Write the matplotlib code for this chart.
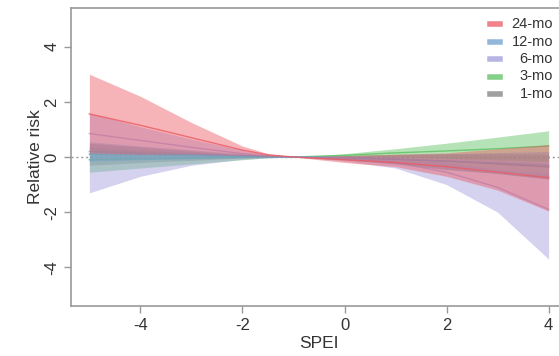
import matplotlib.pyplot as plt

plt.rcParams['font.family'] = ['Liberation Sans', 'DejaVu Sans']

# SPEI grid where the lag curves were read
spei = [-5, -4, -3, -2, -1.5, -1, -0.5, 0, 1, 2, 3, 4]

labels = ["24-mo", "12-mo", "6-mo", "3-mo", "1-mo"]
colors = ["#EC5A62", "#6E9FD0", "#A09CDC", "#5CC060", "#808080"]

rr_24 = [1.56, 1.15, 0.7, 0.25, 0.08, 0.0, -0.05, -0.1, -0.2, -0.35, -0.55, -0.75]
lo_24 = [0.15, 0.1, 0.1, 0.05, 0.02, 0.0, -0.1, -0.2, -0.35, -0.7, -1.2, -1.96]
hi_24 = [3.0, 2.2, 1.25, 0.4, 0.12, 0.0, 0.02, 0.05, 0.1, 0.15, 0.3, 0.45]

rr_12 = [0.2, 0.15, 0.1, 0.05, 0.02, 0.0, -0.01, -0.03, -0.08, -0.15, -0.22, -0.3]
lo_12 = [-0.15, -0.1, -0.06, -0.03, -0.01, 0.0, -0.04, -0.1, -0.25, -0.45, -0.6, -0.8]
hi_12 = [0.55, 0.4, 0.26, 0.12, 0.05, 0.0, 0.02, 0.04, 0.08, 0.12, 0.16, 0.2]

rr_6 = [0.85, 0.6, 0.35, 0.12, 0.04, 0.0, -0.02, -0.05, -0.2, -0.55, -1.1, -1.9]
lo_6 = [-1.3, -0.7, -0.3, -0.08, -0.03, 0.0, -0.07, -0.15, -0.4, -1.0, -2.0, -3.7]
hi_6 = [1.6, 1.1, 0.65, 0.25, 0.08, 0.0, 0.03, 0.05, -0.05, -0.2, -0.45, -0.6]

rr_3 = [-0.1, -0.07, -0.04, -0.01, 0.0, 0.0, 0.03, 0.06, 0.15, 0.22, 0.3, 0.4]
lo_3 = [-0.55, -0.4, -0.25, -0.1, -0.03, 0.0, 0.0, 0.0, 0.0, -0.05, -0.1, -0.15]
hi_3 = [0.35, 0.25, 0.15, 0.07, 0.03, 0.0, 0.05, 0.12, 0.3, 0.5, 0.72, 0.95]

rr_1 = [0.1, 0.08, 0.05, 0.02, 0.01, 0.0, -0.01, -0.03, -0.08, -0.15, -0.25, -0.36]
lo_1 = [-0.3, -0.2, -0.12, -0.04, -0.01, 0.0, -0.05, -0.1, -0.25, -0.45, -0.6, -0.8]
hi_1 = [0.5, 0.36, 0.22, 0.08, 0.03, 0.0, 0.03, 0.06, 0.1, 0.12, 0.12, 0.1]

series = [(rr_24, lo_24, hi_24), (rr_12, lo_12, hi_12), (rr_6, lo_6, hi_6),
          (rr_3, lo_3, hi_3), (rr_1, lo_1, hi_1)]

fig = plt.figure(figsize=(5.59, 3.56), dpi=100)
ax = fig.add_axes([71 / 559, 50 / 356, 496 / 559, 298 / 356])

ax.axhline(0, color="#999999", lw=1, ls=(0, (1.5, 2)), zorder=1)

# shortest lag first, so the 24-mo band sits on top
for (rr, lo, hi), c in reversed(list(zip(series, colors))):
    ax.fill_between(spei, lo, hi, color=c, alpha=0.45, lw=0, zorder=2)
    ax.plot(spei, rr, color=c, lw=1.0, alpha=0.8, zorder=2)

ax.set_xlim(-5.36, 4.36)
ax.set_ylim(-5.4, 5.4)
ax.set_xticks([-4, -2, 0, 2, 4])
ax.set_yticks([-4, -2, 0, 2, 4])
ax.set_yticklabels(["-4", "-2", "0", "2", "4"], rotation=90, va="center")
ax.set_xticklabels(["-4", "-2", "0", "2", "4"])
ax.tick_params(colors="#999999", labelcolor="#333333", labelsize=12, length=5, width=1)
for side in ["left", "bottom", "top", "right"]:
    ax.spines[side].set_color("#999999")
    ax.spines[side].set_linewidth(1.2)

ax.set_xlabel("SPEI", fontsize=12.5, color="#333333", labelpad=2)
ax.set_ylabel("Relative risk", fontsize=12.5, color="#333333", labelpad=1)

# legend: small colour bars with right-aligned labels
for i, (lab, c) in enumerate(zip(labels, colors)):
    y = 1 - (24 + i * 17.5) / 356
    fig.add_artist(plt.Line2D([490 / 559, 500 / 559], [y, y], color=c, lw=4, alpha=0.75,
                              transform=fig.transFigure))
    fig.text(553 / 559, y, lab, ha="right", va="center", fontsize=10.5, color="#333333")

fig.savefig("out.png", dpi=100)
